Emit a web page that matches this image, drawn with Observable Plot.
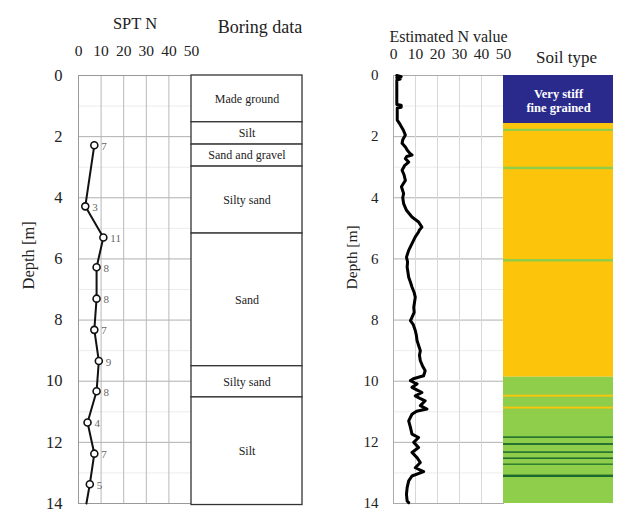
<!DOCTYPE html>
<html><head><meta charset="utf-8">
<script src="https://cdn.jsdelivr.net/npm/d3@7"></script>
<script src="https://cdn.jsdelivr.net/npm/@observablehq/plot@0.6"></script>
<style>
body{margin:0;background:#fff;}
#chart{position:relative;width:620px;height:515px;overflow:hidden;font-family:"Liberation Serif",serif;background:#fff;}
#chart svg{position:absolute;left:0;top:0;background:transparent;overflow:visible;font-family:"Liberation Serif",serif !important;}
#chart svg text, #chart svg g{font-family:"Liberation Serif",serif !important;}
</style></head><body><div id="chart"></div>
<script>
// ---------- data ----------
const depthTicks = [0, 2, 4, 6, 8, 10, 12, 14];
const minorDepths = [1, 3, 5, 7, 9, 11, 13];
const nTicks = [0, 10, 20, 30, 40, 50];

// SPT N
const sptDepth = [2.28, 4.28, 5.3, 6.27, 7.3, 8.32, 9.34, 10.33, 11.35, 12.37, 13.37];
const sptN     = [7, 3, 11, 8, 8, 7, 9, 8, 4, 7, 5];
const sptTailDepth = 14.0;
const sptTailN = 3.5;

// Boring data layers
const layerTop    = [0, 1.53, 2.26, 2.98, 5.17, 9.51, 10.53];
const layerBottom = [1.53, 2.26, 2.98, 5.17, 9.51, 10.53, 14.05];
const layerName   = ["Made ground", "Silt", "Sand and gravel", "Silty sand", "Sand", "Silty sand", "Silt"];

// Estimated N value (CPT-derived)
const estDepth = [0,0.04,0.07,0.12,0.15,0.95,0.97,1.04,1.06,1.46,1.6,1.79,1.95,2.1,2.22,2.35,2.44,2.55,2.6,2.65,2.72,2.83,2.95,3.1,3.25,3.43,3.64,3.86,4.0,4.19,4.41,4.63,4.79,4.96,5.05,5.12,5.28,5.5,5.72,5.94,6.1,6.27,6.45,6.6,6.78,6.92,7.1,7.25,7.4,7.58,7.75,7.91,8.02,8.15,8.34,8.5,8.67,8.85,9.0,9.15,9.33,9.5,9.66,9.82,9.92,9.98,10.05,10.09,10.2,10.3,10.37,10.48,10.56,10.64,10.8,10.91,10.98,11.08,11.3,11.51,11.73,11.84,12.0,12.17,12.33,12.5,12.66,12.83,12.96,13.1,13.26,13.48,13.7,13.92,13.97];
const estN     = [1.5,3.5,1.5,3,1.5,1.5,3.5,3.5,1.7,1.7,3,4.5,5.4,4.2,3.9,5.5,6.2,7.5,8.4,6.0,5.4,6.9,5.0,3.9,4.8,5.4,3.6,4.6,4.2,4.6,5.9,8.4,11.4,12.9,11.8,11.4,9.9,8.4,6.9,5.9,6.4,6.2,6.6,6.9,7.8,8.4,9.4,9.9,9.6,9.2,9.4,8.4,7.7,9.0,9.9,10.4,10.7,11.5,12.2,11.8,12.2,13.2,14.4,13.7,9,7.7,9.5,10.7,8.4,11,12.9,9.9,12,14.4,12.2,15.2,10.5,8.4,6.9,7.7,8.4,11.4,9.2,11.4,8.4,10.7,12.2,9.9,13.7,8.4,6.9,6.2,5.9,6.2,6.9];

// Soil type column
const soilTop    = [0, 1.57, 1.76, 3.0, 6.02, 9.87, 10.46, 10.85, 11.82, 12.04, 12.31, 12.51, 12.71, 13.07];
const soilBottom = [1.57, 9.87, 1.83, 3.08, 6.1, 14.0, 10.52, 10.91, 11.87, 12.1, 12.36, 12.56, 12.75, 13.15];
const soilType   = ["Very stiff fine grained","Sands","Sand mixtures","Sand mixtures","Sand mixtures","Sand mixtures","Sands","Sands","Silt mixtures","Silt mixtures","Silt mixtures","Silt mixtures","Silt mixtures","Silt mixtures"];
const soilTypes  = ["Very stiff fine grained","Sands","Sand mixtures","Silt mixtures"];
const soilColors = ["#2a2a8c","#fdc40c","#8fce4a","#1d6b2c"];

// ---------- build ----------
const W = 620, H = 515, MT = 75, MB = 12;
const FONT = "'Liberation Serif', serif";
const base = {width: W, height: H, marginTop: MT, marginBottom: MB,
  style: {background: "transparent", fontFamily: FONT, color: "#222", overflow: "visible"}};
const yS = {domain: [0, 14], reverse: true, axis: null};
const T = {fontFamily: FONT};

const spt = sptDepth.map((d, i) => ({depth: d, n: sptN[i]}));
const sptLine = [...spt, {depth: sptTailDepth, n: sptTailN}];
const layers = layerTop.map((t, i) => ({top: t, bottom: layerBottom[i], name: layerName[i]}));
const est = estDepth.map((d, i) => ({depth: d, n: estN[i]}));
const soil = soilTop.map((t, i) => ({top: t, bottom: soilBottom[i], type: soilType[i]}));

const plotA = Plot.plot({...base, marginLeft: 78, marginRight: W - 191,
  x: {domain: [0, 50], axis: null}, y: yS,
  marks: [
    Plot.ruleY(minorDepths, {stroke: "#ececec"}),
    Plot.ruleY(depthTicks, {stroke: "#b0b0b0"}),
    Plot.ruleX(nTicks, {stroke: "#b8b8b8"}),
    Plot.frame({stroke: "#999"}),
    Plot.axisX(nTicks, {...T, anchor: "top", tickSize: 0, tickPadding: 20, fontSize: 15.5, label: null}),
    Plot.axisY(depthTicks, {...T, anchor: "left", tickSize: 0, tickPadding: 16, fontSize: 16.5, label: null}),
    Plot.text(["Depth [m]"], {...T, frameAnchor: "left", dx: -50, rotate: -90, fontSize: 16.5}),
    Plot.text(["SPT N"], {...T, frameAnchor: "top", dy: -58, fontSize: 16.5}),
    Plot.line(sptLine, {x: "n", y: "depth", stroke: "#111", strokeWidth: 2}),
    Plot.dot(spt, {x: "n", y: "depth", r: 3.5, fill: "white", stroke: "#111", strokeWidth: 1.6}),
    Plot.text(spt, {x: "n", y: "depth", text: d => String(d.n), dx: 7, dy: 1, textAnchor: "start", fontSize: 11, fill: "#666", fontFamily: "'Liberation Sans', sans-serif"})
  ]});

const plotB = Plot.plot({...base, marginLeft: 191, marginRight: W - 302,
  x: {domain: [0, 1], axis: null}, y: yS,
  marks: [
    Plot.rect(layers, {x1: 0, x2: 1, y1: "top", y2: "bottom", fill: "white", stroke: "#333", strokeWidth: 1.3}),
    Plot.text(layers, {...T, x: 0.5, y: d => (d.top + d.bottom) / 2, text: "name", fontSize: 12, fill: "#222"}),
    Plot.text(["Boring data"], {...T, frameAnchor: "top", dx: 13, dy: -55, fontSize: 18})
  ]});

const plotC = Plot.plot({...base, marginLeft: 393, marginRight: W - 503,
  x: {domain: [0, 50], axis: null}, y: yS,
  marks: [
    Plot.ruleY(minorDepths, {stroke: "#ececec"}),
    Plot.ruleY(depthTicks, {stroke: "#b0b0b0"}),
    Plot.ruleX(nTicks, {stroke: "#d8d8d8"}),
    Plot.frame({stroke: "#aaa"}),
    Plot.axisX(nTicks, {...T, anchor: "top", tickSize: 0, tickPadding: 17, fontSize: 15.5, label: null}),
    Plot.axisY(depthTicks, {...T, anchor: "left", tickSize: 0, tickPadding: 15, fontSize: 15, label: null}),
    Plot.text(["Depth [m]"], {...T, frameAnchor: "left", dx: -41, rotate: -90, fontSize: 15.5}),
    Plot.text(["Estimated N value"], {...T, frameAnchor: "top", dy: -45, fontSize: 16}),
    Plot.line(est, {x: "n", y: "depth", stroke: "#000", strokeWidth: 3})
  ]});

const plotD = Plot.plot({...base, marginLeft: 503, marginRight: W - 613,
  x: {domain: [0, 1], axis: null}, y: yS,
  color: {domain: soilTypes, range: soilColors},
  marks: [
    Plot.rect(soil, {x1: 0, x2: 1, y1: "top", y2: "bottom", fill: "type"}),
    Plot.text(["Very stiff\nfine grained"], {...T, x: 0.5, y: 0.82, fill: "white", fontWeight: "bold", fontSize: 12.5, lineHeight: 1.15}),
    Plot.text(["Soil type"], {...T, frameAnchor: "top", dx: 8, dy: -25, fontSize: 17})
  ]});

const root = document.getElementById("chart");
for (const p of [plotA, plotB, plotC, plotD]) root.appendChild(p);
</script></body></html>
